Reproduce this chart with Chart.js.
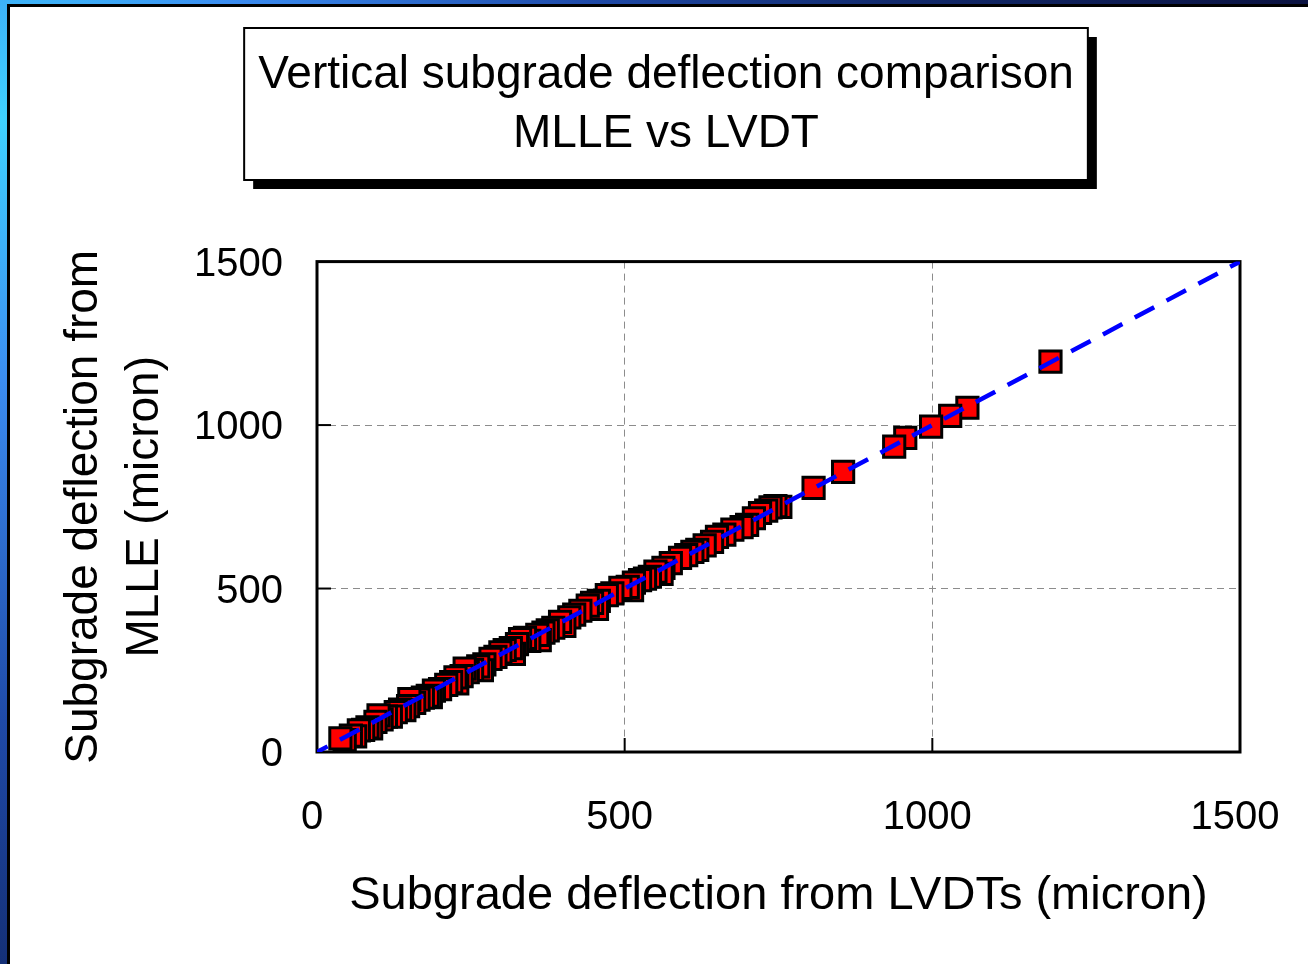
<!DOCTYPE html>
<html>
<head>
<meta charset="utf-8">
<title>Vertical subgrade deflection comparison</title>
<script src="https://cdn.jsdelivr.net/npm/chart.js@4/dist/chart.umd.min.js"></script>
<style>
  html, body { margin: 0; padding: 0; width: 1308px; height: 964px; overflow: hidden; }
  body {
    background: radial-gradient(circle at 0px 120px, #3fd2ff 0px, #3b8cf0 260px, #1f4aa8 600px, #122a6c 900px, #0b1342 1300px);
  }
  .panel {
    position: absolute; left: 7px; top: 4px; right: 0; bottom: 0;
    background: #fff; border-left: 3px solid #000; border-top: 3px solid #000;
  }
  #chart { display: block; }
</style>
</head>
<body>
<div class="panel">
  <canvas id="chart" width="1298" height="957"></canvas>
</div>
<script>
// deflection pairs (micron): LVDT reading vs back-calculated MLLE
const lvdt = [38, 45, 55, 62, 68, 75, 82, 88, 95, 100, 105, 112, 120, 128, 135, 142, 148, 150,
  158, 165, 172, 180, 185, 190, 200, 210, 218, 225, 228, 235, 240, 245, 252, 262, 268, 272, 282,
  290, 298, 305, 315, 320, 325, 330, 338, 345, 358, 362, 368, 375, 384, 395, 402, 410, 418, 428,
  440, 447, 455, 458, 471, 480, 493, 505, 512, 515, 525, 533, 541, 550, 560, 563, 575, 590, 600,
  610, 618, 630, 642, 650, 662, 675, 690, 699, 710, 720, 730, 737, 745, 753,
  807, 855, 938, 956, 998, 1029, 1057, 1192];
const mlle = [42, 36, 50, 48, 66, 68, 75, 72, 92, 112, 100, 108, 108, 122, 130, 128, 140, 162,
  150, 160, 166, 172, 168, 188, 192, 205, 214, 228, 210, 232, 255, 244, 251, 262, 250, 268, 285,
  291, 305, 312, 318, 300, 330, 345, 349, 340, 358, 342, 365, 372, 380, 398, 386, 412, 420, 432,
  448, 456, 438, 462, 480, 485, 502, 505, 495, 518, 526, 530, 536, 552, 545, 563, 578, 594, 602,
  612, 618, 632, 643, 658, 665, 680, 688, 695, 715, 731, 738, 748, 752, 750,
  808, 857, 934, 961, 995, 1028, 1053, 1194];

const axisTicks = [0, 500, 1000, 1500];
const equalityLine = [0, 1500];

const titleLines = ['Vertical subgrade deflection comparison', 'MLLE vs LVDT'];
const xTitle = 'Subgrade deflection from LVDTs (micron)';
const yTitle = ['Subgrade deflection from', 'MLLE (micron)'];

const FONT = '"Liberation Sans", Arial, sans-serif';
// largest readings first so the smaller ones end up drawn on top
const points = lvdt.map((v, i) => ({ x: v, y: mlle[i] })).reverse();

// white box with a hard black drop shadow behind the title
const titleBox = {
  id: 'titleBox',
  beforeDraw(chart) {
    const t = chart.titleBlock;
    const ctx = chart.ctx;
    ctx.save();
    ctx.font = '46px ' + FONT;
    const w = Math.max(...titleLines.map(s => ctx.measureText(s).width)) + 28;
    const cx = (t.left + t.right) / 2;
    const x = cx - w / 2, y = t.top + 21, h = 152;
    ctx.fillStyle = '#000';
    ctx.fillRect(x + 9, y + 9, w, h);
    ctx.fillStyle = '#fff';
    ctx.fillRect(x, y, w, h);
    ctx.lineWidth = 2;
    ctx.strokeStyle = '#000';
    ctx.strokeRect(x, y, w, h);
    ctx.restore();
  }
};

// plot frame and short inward tick marks
const frame = {
  id: 'frame',
  beforeDatasetsDraw(chart) {
    const { ctx, chartArea: a, scales: { x, y } } = chart;
    ctx.save();
    ctx.strokeStyle = '#000';
    ctx.lineWidth = 2;
    axisTicks.slice(1, -1).forEach(v => {
      const px = x.getPixelForValue(v), py = y.getPixelForValue(v);
      ctx.beginPath(); ctx.moveTo(px, a.bottom); ctx.lineTo(px, a.bottom - 14); ctx.stroke();
      ctx.beginPath(); ctx.moveTo(a.left, py); ctx.lineTo(a.left + 14, py); ctx.stroke();
    });
    ctx.lineWidth = 3;
    ctx.strokeRect(a.left, a.top, a.right - a.left, a.bottom - a.top);
    ctx.restore();
  }
};

const gridColor = c => (c.tick && (c.tick.value === axisTicks[0] || c.tick.value === axisTicks[axisTicks.length - 1])) ? 'rgba(0,0,0,0)' : '#8c8c8c';
const plain = v => String(v);

new Chart('chart', {
  type: 'scatter',
  data: {
    datasets: [
      {
        label: '1:1',
        type: 'line',
        data: equalityLine.map(v => ({ x: v, y: v })),
        borderColor: '#0000ff',
        borderWidth: 4.5,
        borderDash: [22, 14],
        borderDashOffset: 10,
        pointRadius: 0,
        fill: false,
        yAxisID: 'y'
      },
      {
        label: 'MLLE vs LVDT',
        data: points,
        pointStyle: 'rect',
        pointRadius: 15,
        pointHoverRadius: 15,
        backgroundColor: '#ff0000',
        borderColor: '#000',
        borderWidth: 3,
        yAxisID: 'y'
      }
    ]
  },
  options: {
    responsive: false,
    animation: false,
    events: [],
    layout: { padding: { left: 14 } },
    plugins: {
      legend: { display: false },
      tooltip: { enabled: false },
      title: {
        display: true,
        text: titleLines,
        color: '#000',
        font: { family: FONT, size: 46, weight: 'normal', lineHeight: 1.3 },
        padding: { top: 38, bottom: 97 }
      }
    },
    scales: {
      x: {
        type: 'linear',
        min: axisTicks[0],
        max: axisTicks[axisTicks.length - 1],
        afterBuildTicks: s => { s.ticks = axisTicks.map(v => ({ value: v })); },
        afterFit: s => { s.height = 212; },
        ticks: { color: '#000', font: { family: FONT, size: 40 }, padding: 0, maxRotation: 0, labelOffset: -5, callback: plain },
        // tick marks kept invisible; their length just pushes the labels down
        grid: { color: gridColor, lineWidth: 1, drawTicks: true, tickLength: 42, tickColor: 'rgba(0,0,0,0)' },
        border: { display: false, dash: [7, 5] },
        title: {
          display: true, text: xTitle, color: '#000',
          font: { family: FONT, size: 47 }, padding: { top: 0, bottom: 40 }
        }
      },
      y: {
        type: 'linear',
        min: axisTicks[0],
        max: axisTicks[axisTicks.length - 1],
        afterBuildTicks: s => { s.ticks = axisTicks.map(v => ({ value: v })); },
        afterFit: s => { s.width = 293; },
        ticks: { color: '#000', font: { family: FONT, size: 40 }, padding: 0, labelOffset: 3, callback: plain },
        grid: { color: gridColor, lineWidth: 1, drawTicks: true, tickLength: 34, tickColor: 'rgba(0,0,0,0)' },
        border: { display: false, dash: [7, 5] },
        title: {
          display: true, text: yTitle, color: '#000',
          font: { family: FONT, size: 46, lineHeight: 1.326 }, padding: { top: 30, bottom: 0 }
        }
      },
      pad: {
        type: 'linear',
        position: 'right',
        display: true,
        ticks: { display: false },
        grid: { display: false },
        border: { display: false },
        afterFit: s => { s.width = 68; }
      }
    }
  },
  plugins: [titleBox, frame]
});
</script>
</body>
</html>
